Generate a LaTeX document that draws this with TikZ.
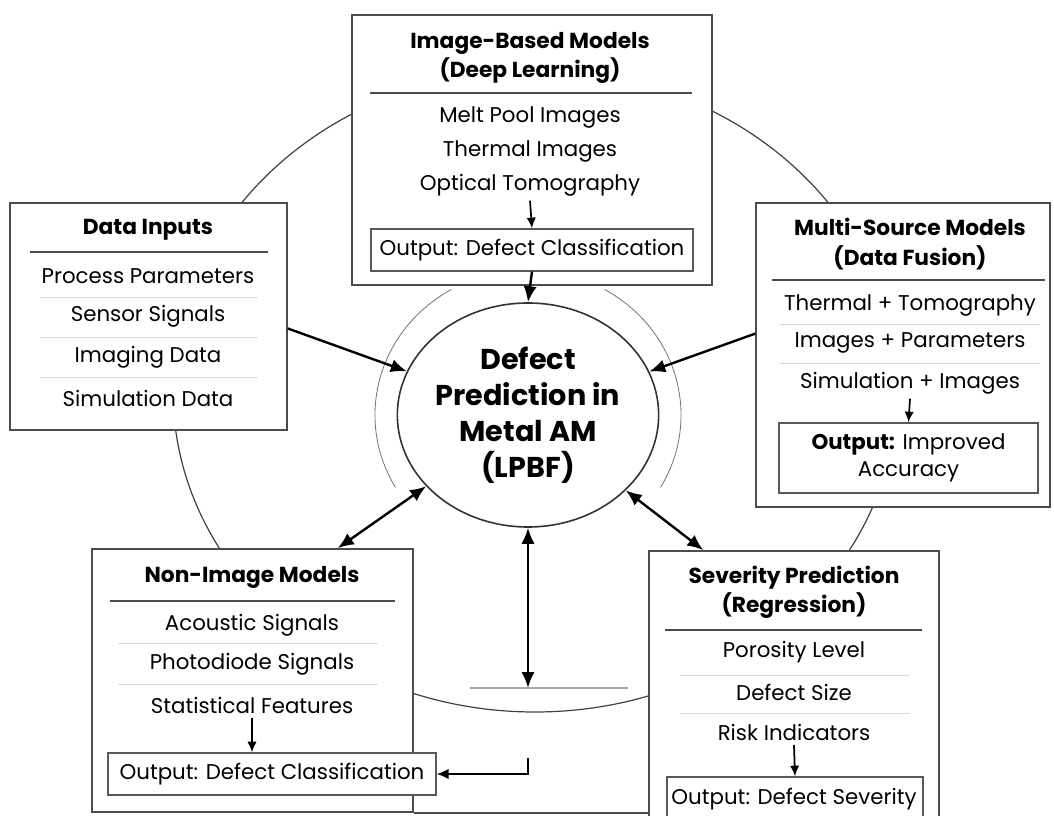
\documentclass[tikz,border=0pt]{standalone}
\usepackage{fontspec}
\setmainfont{Poppins}
\usetikzlibrary{arrows.meta,shapes.geometric,fit}

\tikzset{
  panel/.style={draw=black!70, line width=1.3pt, fill=white, inner sep=0pt},
  outbox/.style={draw=black!65, line width=1pt, fill=white, inner sep=0pt},
  head/.style={font=\bfseries\fontsize{16.3}{22}\selectfont, align=center},
  item/.style={font=\fontsize{16}{20}\selectfont, align=center},
  hub/.style={ellipse, draw=black!80, line width=1.2pt, fill=white, minimum width=196pt, minimum height=168pt, inner sep=0pt, align=center, font=\bfseries\fontsize{21.5}{27}\selectfont},
  rule/.style={line width=1pt, black!70},
  faint/.style={line width=0.6pt, black!15},
  ring/.style={line width=0.9pt, black!75},
  link/.style={line width=1.8pt, -{Latex[length=12pt,width=10pt]}},
  twoway/.style={line width=1.8pt, {Latex[length=12pt,width=10pt]}-{Latex[length=12pt,width=10pt]}},
  elbow/.style={line width=1.4pt, -{Latex[length=9pt,width=8pt]}},
  down/.style={line width=1.3pt, -{Latex[length=8pt,width=7pt]}}
}

\begin{document}
\begin{tikzpicture}[x=0.75pt,y=-0.75pt]
  \useasboundingbox (0,0) rectangle (1054,816);
  \clip (0,0) rectangle (1054,816);

  \draw[ring] (535,391) ellipse [x radius=362, y radius=321];
  \draw[ring, black!55, line width=0.6pt] (451.5,289.4) arc[start angle=240, end angle=150, x radius=153, y radius=145];
  \draw[ring, black!55, line width=0.6pt] (604.5,289.4) arc[start angle=300, end angle=390, x radius=153, y radius=145];

  \node[hub] (hub) at (528,415) {Defect\\Prediction in\\Metal AM\\(LPBF)};

  \node[panel, fit={(352,15) (712,285)}] (img) {};
  \node[head] (imgtitle) at (530,58) {Image-Based Models\\(Deep Learning)};
  \draw[rule] (370,93) -- (692,93);
  \node[item] (img1) at (530,117) {Melt Pool Images};
  \node[item] (img2) at (530,151) {Thermal Images};
  \node[item] (img3) at (530,185) {Optical Tomography};
  \node[outbox, fit={(371,229) (693,271)}] (imgout) {};
  \node[item] (imgouttext) at (imgout) {Output: Defect Classification};
  \draw[down] (img3.south) -- (imgout.north);

  \node[panel, fit={(10,203) (287,430)}] (data) {};
  \node[head] (datatitle) at (148,230) {Data Inputs};
  \draw[rule] (30,252) -- (268,252);
  \node[item] (data1) at (148,276) {Process Parameters};
  \node[item] (data2) at (148,316) {Sensor Signals};
  \node[item] (data3) at (148,357) {Imaging Data};
  \node[item] (data4) at (148,398) {Simulation Data};
  \foreach \y in {297,337,377}
    \draw[faint] (40,\y) -- (258,\y);

  \node[panel, fit={(756,203) (1050,507)}] (multi) {};
  \node[head] (multititle) at (910,244) {Multi-Source Models\\(Data Fusion)};
  \draw[rule] (772,280) -- (1045,280);
  \node[item] (multi1) at (910,305) {Thermal + Tomography};
  \node[item] (multi2) at (910,343) {Images + Parameters};
  \node[item] (multi3) at (910,383) {Simulation + Images};
  \foreach \y in {324,363}
    \draw[faint] (780,\y) -- (1040,\y);
  \node[outbox, fit={(779,423) (1038,493)}] (multiout) {};
  \node[item] (multiouttext) at (multiout) {\textbf{Output:} Improved\\Accuracy};
  \draw[down] (multi3.south) -- (multiout.north);

  \node[panel, fit={(92,549) (413,812)}] (nonimg) {};
  \node[head] (nonimgtitle) at (252,577) {Non-Image Models};
  \draw[rule] (110,601) -- (395,601);
  \node[item] (nonimg1) at (252,625) {Acoustic Signals};
  \node[item] (nonimg2) at (252,664) {Photodiode Signals};
  \node[item] (nonimg3) at (252,705) {Statistical Features};
  \foreach \y in {643,684}
    \draw[faint] (118,\y) -- (378,\y);
  \node[outbox, fit={(108,753) (436,795)}] (nonout) {};
  \node[item] (nonouttext) at (nonout) {Output: Defect Classification};
  \draw[down] (nonimg3.south) -- (nonout.north -| nonimg3.south);

  \node[panel, fit={(649,551) (939,840)}] (sev) {};
  \node[head] (sevtitle) at (794,592) {Severity Prediction\\(Regression)};
  \draw[rule] (665,630) -- (922,630);
  \node[item] (sev1) at (794,652) {Porosity Level};
  \node[item] (sev2) at (794,692) {Defect Size};
  \node[item] (sev3) at (794,732) {Risk Indicators};
  \foreach \y in {675,713}
    \draw[faint] (680,\y) -- (910,\y);
  \node[outbox, fit={(667,777) (923,840)}] (sevout) {};
  \node[item] (sevouttext) at (794,799) {Output: Defect Severity};
  \draw[down] (sev3.south) -- (sevout.north);
  \draw[panel] (nonimg.south east) -- (sev.west |- nonimg.south east);

  \draw[link] (imgout.south) -- (hub.north);
  \draw[link] ([yshift=-9pt]data.east) -- (hub);
  \draw[link] ([yshift=16pt]multi.west) -- (hub);
  \draw[twoway] ([xshift=64pt]nonimg.north) -- (hub);
  \draw[twoway] ([xshift=-68pt]sev.north) -- (hub);

  \coordinate (split) at (528,688);
  \coordinate (turn) at (528,758);
  \draw[twoway] (hub) -- (split);
  \draw[line width=0.8pt, black!35] (470,688) -- (628,688);
  \draw[elbow] (turn) |- (nonout.east);
\end{tikzpicture}
\end{document}
